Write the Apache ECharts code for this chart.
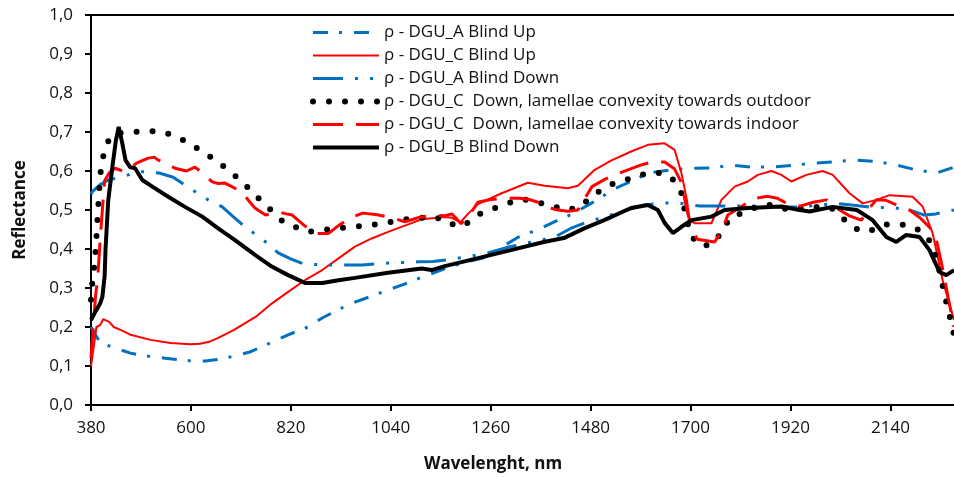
<!DOCTYPE html>
<html>
<head>
<meta charset="utf-8">
<script src="https://cdn.jsdelivr.net/npm/echarts@6/dist/echarts.min.js"></script>
<style>
html, body { margin: 0; padding: 0; background: #fff; }
#chart { width: 954px; height: 477px; }
</style>
</head>
<body>
<div id="chart"></div>
<script>
// x tick labels
var xTicks = [380, 600, 820, 1040, 1260, 1480, 1700, 1920, 2140];

// DGU_A Blind Up
var upAx = [380, 390, 400, 423, 467, 500, 543, 600, 632, 660, 686, 730, 774, 814, 858, 889, 925, 961, 1000, 1034, 1070, 1109, 1160, 1200, 1254, 1285, 1320, 1364, 1410, 1440, 1478, 1500, 1530, 1570, 1608, 1660, 1703, 1745, 1791, 1834, 1881, 1927, 1973, 2018, 2066, 2112, 2154, 2196, 2242, 2280];
var upAy = [0.2, 0.18, 0.16, 0.15, 0.133, 0.126, 0.12, 0.113, 0.113, 0.117, 0.123, 0.136, 0.159, 0.18, 0.2, 0.223, 0.245, 0.264, 0.28, 0.295, 0.31, 0.328, 0.35, 0.365, 0.38, 0.405, 0.43, 0.45, 0.475, 0.49, 0.515, 0.53, 0.553, 0.574, 0.595, 0.603, 0.607, 0.608, 0.615, 0.61, 0.61, 0.615, 0.62, 0.624, 0.628, 0.624, 0.615, 0.603, 0.595, 0.61];

// DGU_C Blind Up
var upCx = [380, 385, 392, 400, 407, 420, 430, 450, 467, 511, 555, 599, 620, 640, 658, 694, 745, 778, 814, 851, 889, 925, 961, 998, 1034, 1071, 1108, 1159, 1175, 1193, 1210, 1232, 1284, 1342, 1379, 1430, 1452, 1489, 1527, 1556, 1569, 1606, 1643, 1665, 1680, 1692, 1698, 1709, 1746, 1768, 1797, 1826, 1848, 1878, 1900, 1922, 1955, 1991, 2013, 2050, 2079, 2109, 2138, 2189, 2211, 2233, 2255, 2280];
var upCy = [0.1, 0.14, 0.2, 0.205, 0.22, 0.213, 0.2, 0.19, 0.18, 0.167, 0.159, 0.156, 0.157, 0.162, 0.171, 0.192, 0.228, 0.26, 0.29, 0.32, 0.346, 0.376, 0.406, 0.427, 0.444, 0.46, 0.476, 0.482, 0.48, 0.468, 0.49, 0.515, 0.543, 0.57, 0.562, 0.556, 0.562, 0.603, 0.628, 0.643, 0.65, 0.667, 0.671, 0.654, 0.594, 0.525, 0.474, 0.466, 0.466, 0.526, 0.56, 0.573, 0.59, 0.6, 0.59, 0.573, 0.59, 0.6, 0.59, 0.543, 0.517, 0.526, 0.538, 0.534, 0.509, 0.44, 0.32, 0.218];

// DGU_A Blind Down
var downAx = [380, 383, 400, 418, 440, 462, 477, 495, 530, 561, 587, 612, 638, 669, 693, 720, 745, 768, 792, 821, 848, 880, 911, 977, 1035, 1100, 1133, 1160, 1210, 1254, 1300, 1350, 1400, 1440, 1475, 1510, 1560, 1600, 1640, 1672, 1690, 1720, 1750, 1800, 1850, 1900, 1940, 1980, 2021, 2060, 2100, 2145, 2182, 2215, 2240, 2280];
var downAy = [0.54, 0.547, 0.565, 0.577, 0.583, 0.59, 0.598, 0.598, 0.595, 0.584, 0.564, 0.545, 0.526, 0.508, 0.483, 0.456, 0.435, 0.415, 0.39, 0.374, 0.362, 0.36, 0.359, 0.359, 0.364, 0.367, 0.368, 0.372, 0.38, 0.39, 0.405, 0.418, 0.43, 0.455, 0.47, 0.482, 0.5, 0.513, 0.518, 0.518, 0.515, 0.51, 0.51, 0.51, 0.51, 0.508, 0.508, 0.512, 0.517, 0.512, 0.507, 0.506, 0.5, 0.487, 0.49, 0.5];

// DGU_C Down, convexity towards outdoor
var outCx = [380, 383, 387, 390, 392, 394, 396, 398, 400, 405, 412, 425, 440, 471, 504, 537, 570, 598, 627, 656, 682, 708, 733, 757, 779, 803, 828, 857, 891, 924, 957, 990, 1023, 1056, 1089, 1122, 1155, 1186, 1210, 1236, 1269, 1300, 1331, 1364, 1395, 1428, 1456, 1482, 1511, 1540, 1573, 1606, 1639, 1663, 1680, 1686, 1695, 1703, 1727, 1755, 1771, 1791, 1824, 1855, 1886, 1916, 1949, 1984, 2010, 2035, 2061, 2092, 2123, 2154, 2187, 2213, 2233, 2245, 2257, 2264, 2272, 2280];
var outCy = [0.27, 0.316, 0.355, 0.393, 0.43, 0.47, 0.508, 0.547, 0.587, 0.626, 0.664, 0.69, 0.697, 0.7, 0.703, 0.7, 0.688, 0.669, 0.649, 0.626, 0.603, 0.577, 0.549, 0.52, 0.497, 0.47, 0.457, 0.444, 0.449, 0.453, 0.457, 0.46, 0.466, 0.472, 0.48, 0.48, 0.478, 0.457, 0.467, 0.49, 0.505, 0.518, 0.528, 0.52, 0.51, 0.5, 0.508, 0.534, 0.558, 0.573, 0.582, 0.595, 0.595, 0.577, 0.543, 0.505, 0.46, 0.43, 0.406, 0.418, 0.453, 0.483, 0.496, 0.513, 0.513, 0.5, 0.505, 0.508, 0.505, 0.479, 0.453, 0.444, 0.462, 0.464, 0.459, 0.441, 0.41, 0.36, 0.295, 0.259, 0.22, 0.18];

// DGU_C Down, convexity towards indoor
var inCx = [380, 385, 390, 395, 400, 405, 410, 420, 433, 450, 462, 480, 506, 520, 528, 545, 565, 590, 609, 625, 647, 660, 675, 690, 712, 730, 741, 764, 793, 810, 823, 850, 874, 903, 925, 951, 979, 1010, 1042, 1071, 1100, 1130, 1157, 1175, 1195, 1215, 1232, 1260, 1291, 1324, 1345, 1364, 1390, 1408, 1430, 1452, 1470, 1483, 1510, 1533, 1562, 1590, 1614, 1643, 1665, 1680, 1692, 1703, 1715, 1753, 1770, 1782, 1800, 1820, 1841, 1870, 1891, 1915, 1941, 1970, 2000, 2028, 2050, 2076, 2090, 2109, 2130, 2153, 2182, 2205, 2226, 2240, 2255, 2268, 2280];
var inCy = [0.12, 0.2, 0.28, 0.33, 0.42, 0.5, 0.575, 0.595, 0.607, 0.6, 0.603, 0.62, 0.633, 0.635, 0.628, 0.62, 0.607, 0.6, 0.61, 0.595, 0.572, 0.568, 0.569, 0.56, 0.546, 0.52, 0.505, 0.487, 0.495, 0.49, 0.487, 0.46, 0.44, 0.44, 0.46, 0.48, 0.492, 0.488, 0.48, 0.47, 0.48, 0.487, 0.485, 0.49, 0.465, 0.49, 0.52, 0.527, 0.53, 0.53, 0.527, 0.52, 0.505, 0.5, 0.497, 0.5, 0.535, 0.56, 0.578, 0.59, 0.603, 0.615, 0.623, 0.623, 0.605, 0.57, 0.5, 0.45, 0.425, 0.418, 0.45, 0.487, 0.5, 0.515, 0.53, 0.535, 0.53, 0.515, 0.51, 0.52, 0.526, 0.5, 0.485, 0.474, 0.5, 0.526, 0.525, 0.513, 0.5, 0.48, 0.456, 0.43, 0.35, 0.27, 0.2];

// DGU_B Blind Down
var downBx = [380, 390, 400, 405, 410, 412, 418, 427, 435, 441, 449, 456, 466, 477, 493, 515, 550, 587, 625, 660, 697, 741, 778, 814, 851, 889, 925, 961, 1034, 1108, 1130, 1159, 1230, 1304, 1377, 1421, 1466, 1510, 1569, 1606, 1628, 1643, 1661, 1680, 1702, 1746, 1775, 1826, 1900, 1940, 1962, 2013, 2066, 2101, 2131, 2153, 2175, 2204, 2226, 2248, 2263, 2280];
var downBy = [0.218, 0.24, 0.26, 0.277, 0.33, 0.4, 0.525, 0.61, 0.68, 0.713, 0.67, 0.628, 0.61, 0.607, 0.577, 0.56, 0.534, 0.508, 0.483, 0.453, 0.423, 0.385, 0.355, 0.333, 0.313, 0.313, 0.32, 0.326, 0.339, 0.35, 0.346, 0.356, 0.376, 0.397, 0.418, 0.428, 0.453, 0.474, 0.505, 0.513, 0.5, 0.467, 0.441, 0.457, 0.474, 0.483, 0.5, 0.505, 0.509, 0.5, 0.496, 0.508, 0.5, 0.474, 0.431, 0.418, 0.436, 0.431, 0.397, 0.341, 0.333, 0.346];

var names = [
    "ρ - DGU_A Blind Up",
    "ρ - DGU_C Blind Up",
    "ρ - DGU_A Blind Down",
    "ρ - DGU_C  Down, lamellae convexity towards outdoor",
    "ρ - DGU_C  Down, lamellae convexity towards indoor",
    "ρ - DGU_B Blind Down"
];

function zip(xs, ys) {
    var out = [];
    for (var i = 0; i < xs.length; i++) {
        out.push([xs[i], ys[i]]);
    }
    return out;
}

function line(name, xs, ys, color, width, dash, cap) {
    return {
        name: name,
        type: "line",
        symbol: "none",
        animation: false,
        data: zip(xs, ys),
        lineStyle: { color: color, width: width, type: dash, cap: cap || "butt" },
        itemStyle: { color: color }
    };
}

var blue = "#0070c0";
var red = "#ff0000";
var black = "#000000";
var font = "'Open Sans', 'Liberation Sans', sans-serif";

var myChart = echarts.init(document.getElementById("chart"));
var option = {
    backgroundColor: "#fff",
    grid: { left: 91, right: 0, top: 15, bottom: 72 },
    legend: {
        orient: "vertical",
        left: 305,
        top: 19,
        itemWidth: 66,
        itemHeight: 14,
        itemGap: 6,
        lineStyle: { width: "inherit" },
        itemStyle: { opacity: 0 },   // hide the circle in the middle of the legend line
        textStyle: { fontFamily: font, fontSize: 17, color: "#111", padding: [0, 0, 0, 0] },
        data: names
    },
    xAxis: [{
        type: "value",
        min: 380,
        max: 2280,
        axisLine: { lineStyle: { color: "#000", width: 2 } },
        axisTick: { show: true, length: 6, customValues: xTicks, lineStyle: { color: "#000", width: 2 } },
        axisLabel: {
            customValues: xTicks,
            margin: 15,
            fontFamily: font,
            fontSize: 17,
            color: "#111",
            formatter: function (v) { return String(v); }
        },
        splitLine: { show: false }
    }, {
        // top frame line
        type: "value",
        position: "top",
        min: 380,
        max: 2280,
        axisLine: { show: true, lineStyle: { color: "#000", width: 2 } },
        axisTick: { show: false },
        axisLabel: { show: false },
        splitLine: { show: false }
    }],
    yAxis: {
        type: "value",
        min: 0,
        max: 1,
        interval: 0.1,
        name: "Reflectance",
        nameLocation: "middle",
        nameGap: 62,
        nameTextStyle: { fontFamily: font, fontSize: 17, fontWeight: "bold", color: "#111" },
        axisLine: { show: true, lineStyle: { color: "#000", width: 2 } },
        axisTick: { show: true, length: 6, lineStyle: { color: "#000", width: 2 } },
        axisLabel: {
            margin: 18,
            fontFamily: font,
            fontSize: 17,
            color: "#111",
            formatter: function (v) { return v.toFixed(1).replace(".", ","); }
        },
        splitLine: { show: false }
    },
    graphic: [{
        type: "text",
        left: 424,
        top: 456,
        style: { text: "Wavelenght, nm", font: "bold 17px " + font, fill: "#111" }
    }],
    series: [
        line(names[0], upAx, upAy, blue, 3, [15, 11, 3, 12]),
        line(names[1], upCx, upCy, red, 2, "solid"),
        line(names[2], downAx, downAy, blue, 3, [30, 12, 3, 12, 3, 12]),
        line(names[3], outCx, outCy, black, 6, [0, 16], "round"),
        line(names[4], inCx, inCy, red, 3, [30, 13]),
        line(names[5], downBx, downBy, black, 4, "solid")
    ]
};
myChart.setOption(option, true);
</script>
</body>
</html>
